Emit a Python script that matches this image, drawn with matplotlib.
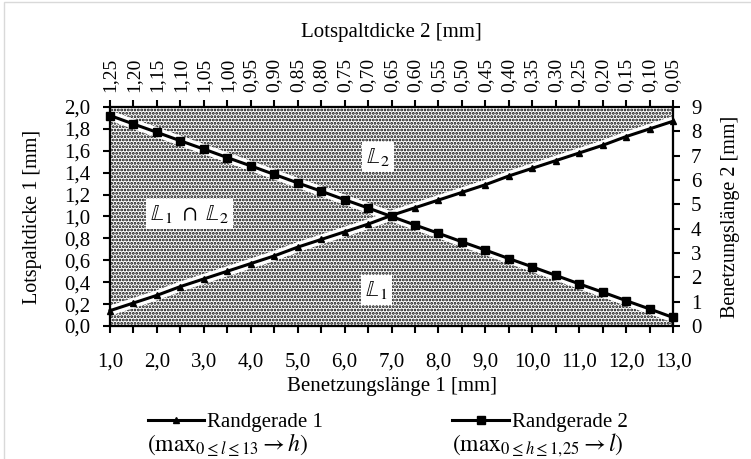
import matplotlib as mpl
mpl.use('Agg')
import matplotlib.pyplot as plt
from matplotlib.ticker import MultipleLocator, FuncFormatter
from matplotlib.patches import Rectangle, Polygon

mpl.rc('font', family='Liberation Serif', size=15)
mpl.rc('mathtext', fontset='stix')
mpl.rc('hatch', linewidth=1.35)

# Randgerade 1: Lotspaltdicke 1 [mm] ueber Benetzungslaenge 1 [mm]
benetz_1 = [1.0, 1.5, 2.0, 2.5, 3.0, 3.5, 4.0, 4.5, 5.0, 5.5, 6.0, 6.5, 7.0,
            7.5, 8.0, 8.5, 9.0, 9.5, 10.0, 10.5, 11.0, 11.5, 12.0, 12.5, 13.0]
dicke_1 = [0.14, 0.21, 0.28, 0.36, 0.43, 0.50, 0.57, 0.64, 0.72, 0.79, 0.86, 0.93, 1.01,
           1.08, 1.15, 1.22, 1.29, 1.37, 1.44, 1.51, 1.58, 1.65, 1.73, 1.80, 1.87]

# Randgerade 2: Benetzungslaenge 2 [mm] ueber Lotspaltdicke 2 [mm]
dicke_2 = [1.25, 1.20, 1.15, 1.10, 1.05, 1.00, 0.95, 0.90, 0.85, 0.80, 0.75, 0.70, 0.65,
           0.60, 0.55, 0.50, 0.45, 0.40, 0.35, 0.30, 0.25, 0.20, 0.15, 0.10, 0.05]
benetz_2 = [8.65, 8.30, 7.96, 7.61, 7.27, 6.92, 6.58, 6.23, 5.88, 5.54, 5.19, 4.85, 4.50,
            4.15, 3.81, 3.46, 3.12, 2.77, 2.43, 2.08, 1.73, 1.39, 1.04, 0.70, 0.35]
i_cross = 12  # index of the intersection point

leg_labels = ['Randgerade 1', 'Randgerade 2']
leg_sub = [r'$(\mathrm{max}_{0\leq l\leq 13}\rightarrow h)$',
           r'$(\mathrm{max}_{0\leq h\leq 1{,}25}\rightarrow l)$']


def komma(fmt):
    return FuncFormatter(lambda v, pos: fmt.format(v).replace('.', ','))


fig = plt.figure(figsize=(7.51, 4.59), dpi=100)
ax = fig.add_axes([0.1465, 0.2898, 0.7497, 0.4771])
ax_r = ax.twinx()
ax_t = ax_r.twiny()

ax.set_xlim(1, 13)
ax.set_ylim(0, 2)
ax_r.set_ylim(0, 9)
ax_t.set_xlim(1.25, 0.05)

hatch = '.....'
hcol = 'black'
# dotted areas: everything except the wedge between the lines right of the intersection
ueber_1 = ([(1, 0), (benetz_1[i_cross], 0)] + list(zip(benetz_1[i_cross:], dicke_1[i_cross:]))
           + [(13, 2), (1, 2)])
ax.add_patch(Polygon(ueber_1, closed=True, facecolor='none', edgecolor=hcol,
                     hatch=hatch, lw=0, zorder=1))
unter_2 = list(zip(dicke_2[i_cross:], benetz_2[i_cross:])) + [(0.05, 0), (dicke_2[i_cross], 0)]
ax.add_patch(Polygon(unter_2, closed=True, transform=ax_t.transData, facecolor='none',
                     edgecolor=hcol, hatch=hatch, lw=0, zorder=1))

# white gaps along both lines
ax.plot(benetz_1, dicke_1, color='white', lw=7, zorder=2, solid_capstyle='butt')
ax.plot(dicke_2, benetz_2, color='white', lw=7, zorder=2, solid_capstyle='butt',
        transform=ax_t.transData)

l1, = ax.plot(benetz_1, dicke_1, color='black', lw=2.2, marker='^', ms=5,
              zorder=4, clip_on=False)
l2, = ax.plot(dicke_2, benetz_2, color='black', lw=2.2, marker='s', ms=5.5,
              zorder=4, clip_on=False, transform=ax_t.transData)

box = dict(facecolor='white', edgecolor='none', pad=3)
ax.text(2.69, 1.02, r'$\mathbb{L}_1\ \cap\ \mathbb{L}_2$', ha='center', va='center',
        fontsize=16.5, bbox=box, zorder=3)
ax.text(6.72, 1.54, r'$\mathbb{L}_2$', ha='center', va='center', fontsize=16.5, bbox=box, zorder=3)
ax.text(6.68, 0.33, r'$\mathbb{L}_1$', ha='center', va='center', fontsize=16.5, bbox=box, zorder=3)

# axes, ticks, labels
ax.xaxis.set_major_locator(MultipleLocator(1))
ax.xaxis.set_minor_locator(MultipleLocator(0.5))
ax.xaxis.set_major_formatter(komma('{:.1f}'))
ax.yaxis.set_major_locator(MultipleLocator(0.2))
ax.yaxis.set_major_formatter(komma('{:.1f}'))
ax_r.yaxis.set_major_locator(MultipleLocator(1))
ax_t.set_xticks(dicke_2)
ax_t.xaxis.set_major_formatter(komma('{:.2f}'))

for a in (ax, ax_r, ax_t):
    a.tick_params(which='both', direction='out', length=5, width=1.5, labelsize=15)
    for s in a.spines.values():
        s.set_linewidth(1.5)
ax.tick_params(axis='x', pad=14)
ax.tick_params(axis='y', pad=9)
ax_r.tick_params(axis='y', pad=8)
ax_t.tick_params(axis='x', labelsize=14, pad=6, labelrotation=90)

ax.set_xlabel('Benetzungslänge 1 [mm]', fontsize=15, va='center')
ax.xaxis.set_label_coords(0.5, -(387 - 326) / 219)
ax_t.set_xlabel('Lotspaltdicke 2 [mm]', fontsize=15, va='center')
ax_t.xaxis.set_label_coords(0.5, 1 + (107 - 33) / 219)
ax.set_ylabel('Lotspaltdicke 1 [mm]', fontsize=14.5, va='center')
ax.yaxis.set_label_coords(-(110 - 32) / 563, 0.5)
ax_r.set_ylabel('Benetzungslänge 2 [mm]', fontsize=14.5, va='center')
ax_r.yaxis.set_label_coords((730 - 110) / 563, 0.5)

fig.legend([l1, l2], leg_labels, loc='center left', bbox_to_anchor=(148 / 751, 1 - 422 / 459),
           ncol=2, frameon=False, fontsize=15, handlelength=2.7, handletextpad=0.15,
           columnspacing=6.2, borderpad=0, borderaxespad=0)
fig.text(147 / 751, 1 - 445 / 459, leg_sub[0], fontsize=17, va='center', ha='left')
fig.text(452 / 751, 1 - 445 / 459, leg_sub[1], fontsize=17, va='center', ha='left')

fig.patches.append(Rectangle((4 / 751, -0.05), 1.1, 1.05 - 2 / 459, transform=fig.transFigure,
                             fill=False, edgecolor='#d9d9d9', lw=1))

fig.savefig('out.png', dpi=100)
